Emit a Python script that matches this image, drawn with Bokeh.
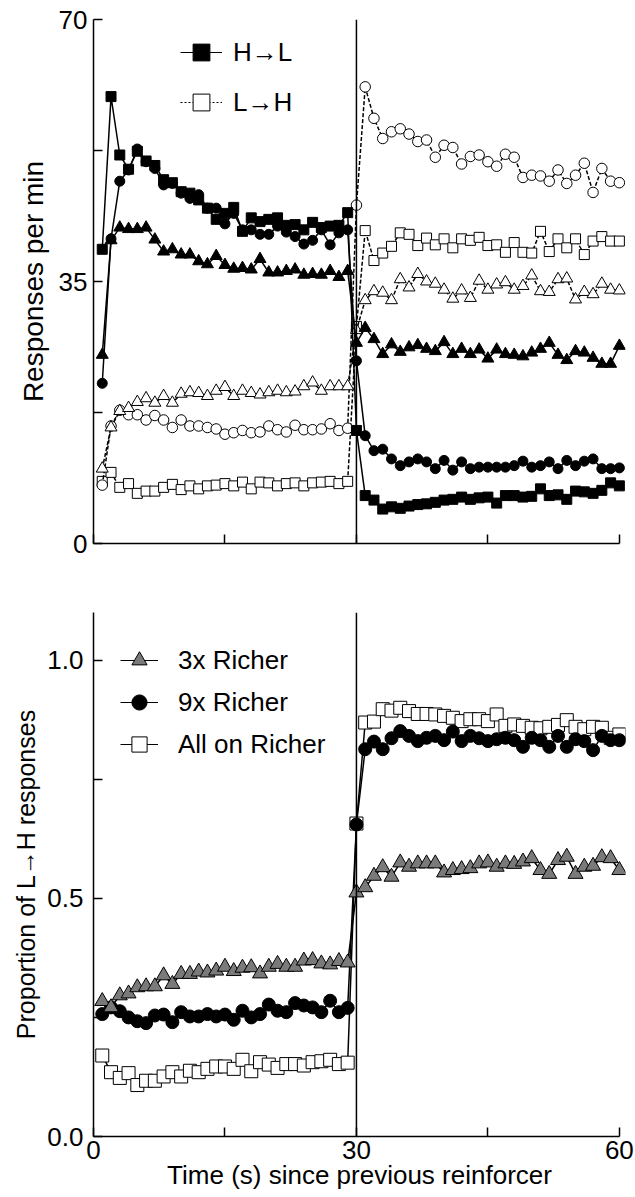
from bokeh.plotting import figure
from bokeh.models import Range1d, FixedTicker, Span, Legend, LegendItem
from bokeh.layouts import column
from bokeh.embed import file_html
from bokeh.resources import INLINE

# ---------------- data ----------------
time_s = [1, 2, 3, 4, 5, 6, 7, 8, 9, 10, 11, 12, 13, 14, 15, 16, 17, 18, 19, 20,
          21, 22, 23, 24, 25, 26, 27, 28, 29, 30, 31, 32, 33, 34, 35, 36, 37, 38, 39, 40,
          41, 42, 43, 44, 45, 46, 47, 48, 49, 50, 51, 52, 53, 54, 55, 56, 57, 58, 59, 60]

# Top panel: responses per min (H->L filled, L->H open)
hl_square = [39.3, 59.7, 51.9, 50.0, 52.4, 51.1, 50.5, 48.6, 48.2, 47.0, 46.8, 45.9, 44.8, 43.3, 44.1,
             44.9, 41.7, 43.5, 43.0, 43.3, 43.5, 42.5, 42.6, 41.9, 42.9, 42.2, 42.4, 42.5, 44.2, 15.1,
             6.4, 5.8, 4.6, 4.9, 4.7, 5.0, 5.2, 5.3, 5.5, 5.8, 5.9, 6.2, 5.9, 6.1, 6.2,
             5.4, 6.4, 6.4, 6.2, 6.3, 7.3, 6.4, 6.5, 5.9, 7.0, 6.9, 6.7, 7.1, 8.1, 7.7]
hl_circle = [21.4, 40.7, 48.4, 49.9, 52.7, 51.0, 50.1, 47.9, 48.1, 46.8, 46.1, 46.6, 44.8, 44.8, 42.7,
             44.1, 41.9, 41.9, 41.3, 41.3, 42.4, 41.6, 41.0, 40.0, 40.5, 41.9, 39.9, 41.5, 41.9, 24.4,
             14.4, 12.4, 12.6, 11.3, 10.4, 10.9, 11.3, 10.9, 10.0, 11.1, 9.8, 10.9, 10.0, 10.2, 10.2,
             10.2, 10.2, 10.4, 11.0, 10.2, 10.4, 10.9, 10.0, 11.1, 10.4, 11.0, 11.3, 10.0, 10.0, 10.1]
hl_triangle = [25.2, 40.5, 42.2, 42.0, 42.0, 42.2, 40.6, 39.0, 39.3, 38.6, 38.6, 37.7, 37.3, 38.4, 37.2,
               36.7, 36.8, 36.6, 38.0, 36.2, 36.2, 36.4, 36.6, 35.9, 36.0, 35.9, 36.4, 35.6, 36.4, 26.8,
               28.8, 27.3, 25.3, 26.6, 25.6, 26.2, 26.5, 26.0, 25.7, 26.9, 25.3, 26.0, 25.3, 25.9, 24.7,
               25.9, 25.3, 25.2, 25.0, 25.5, 26.0, 26.8, 25.2, 24.5, 25.7, 25.5, 24.8, 24.0, 24.0, 26.4]
lh_square = [8.3, 9.5, 7.5, 8.0, 6.7, 7.0, 7.0, 7.5, 7.9, 7.2, 7.7, 7.3, 7.7, 7.8, 8.0,
             7.7, 8.2, 7.3, 8.2, 8.1, 7.7, 8.0, 8.1, 7.7, 8.1, 8.2, 8.3, 8.0, 8.3, 29.0,
             41.8, 37.8, 38.8, 39.7, 41.5, 41.3, 39.8, 40.8, 39.9, 40.7, 39.5, 40.7, 40.5, 40.9, 39.8,
             39.9, 38.9, 40.2, 38.9, 38.8, 41.7, 39.0, 40.7, 39.5, 40.7, 38.6, 40.4, 41.0, 40.4, 40.4]
lh_circle = [7.8, 15.7, 17.8, 17.2, 17.2, 16.5, 17.1, 16.5, 15.5, 16.5, 15.7, 15.7, 15.5, 15.3, 14.6,
             14.8, 15.1, 14.8, 14.9, 15.7, 15.2, 14.9, 15.8, 15.2, 15.2, 15.3, 16.0, 15.1, 15.4, 45.2,
             61.0, 56.8, 54.1, 55.0, 55.4, 54.7, 53.7, 53.9, 51.6, 53.2, 52.9, 50.7, 51.7, 51.9, 51.0,
             50.4, 52.0, 51.6, 48.9, 49.2, 49.1, 48.4, 49.9, 48.1, 49.2, 50.8, 46.9, 50.1, 48.4, 48.2]
lh_triangle = [10.0, 15.5, 17.7, 18.1, 18.9, 19.4, 18.8, 19.7, 18.8, 20.0, 20.2, 20.1, 19.7, 20.4, 20.9,
               19.7, 20.4, 20.1, 19.9, 20.2, 20.4, 20.2, 20.3, 21.0, 21.5, 20.4, 21.0, 21.0, 21.0, 28.5,
               32.5, 33.7, 33.5, 32.5, 35.3, 34.2, 36.0, 35.0, 34.7, 33.9, 32.7, 33.8, 32.8, 35.1, 33.9,
               34.6, 34.9, 33.9, 34.4, 35.8, 33.7, 33.6, 35.3, 35.4, 32.6, 33.6, 33.3, 34.7, 33.9, 33.8]

# Bottom panel: proportion of L->H responses
richer_3x = [0.284, 0.271, 0.296, 0.300, 0.313, 0.315, 0.315, 0.338, 0.320, 0.341, 0.341, 0.346, 0.344, 0.348, 0.356,
             0.347, 0.354, 0.355, 0.342, 0.356, 0.362, 0.356, 0.356, 0.369, 0.370, 0.363, 0.361, 0.368, 0.365, 0.512,
             0.523, 0.547, 0.565, 0.545, 0.575, 0.566, 0.573, 0.573, 0.573, 0.554, 0.559, 0.561, 0.563, 0.573, 0.575,
             0.566, 0.573, 0.572, 0.577, 0.584, 0.559, 0.551, 0.580, 0.587, 0.551, 0.566, 0.568, 0.586, 0.584, 0.559]
richer_9x = [0.257, 0.271, 0.263, 0.250, 0.242, 0.238, 0.254, 0.256, 0.240, 0.261, 0.252, 0.252, 0.257, 0.252, 0.256,
             0.245, 0.264, 0.250, 0.257, 0.277, 0.264, 0.261, 0.280, 0.275, 0.271, 0.261, 0.285, 0.261, 0.270, 0.655,
             0.813, 0.829, 0.813, 0.836, 0.851, 0.841, 0.830, 0.837, 0.841, 0.832, 0.850, 0.830, 0.841, 0.836, 0.830,
             0.834, 0.837, 0.832, 0.818, 0.837, 0.832, 0.818, 0.841, 0.818, 0.834, 0.830, 0.811, 0.841, 0.832, 0.832]
all_richer = [0.170, 0.135, 0.123, 0.133, 0.108, 0.117, 0.117, 0.126, 0.135, 0.126, 0.138, 0.135, 0.142, 0.147, 0.147,
              0.142, 0.161, 0.137, 0.156, 0.151, 0.144, 0.152, 0.152, 0.149, 0.156, 0.158, 0.161, 0.152, 0.155, 0.657,
              0.869, 0.871, 0.897, 0.894, 0.900, 0.893, 0.887, 0.887, 0.886, 0.883, 0.879, 0.872, 0.876, 0.876, 0.872,
              0.886, 0.862, 0.865, 0.862, 0.858, 0.857, 0.860, 0.864, 0.874, 0.860, 0.855, 0.860, 0.858, 0.837, 0.844]

x_ticks = [0, 15, 30, 45, 60]
top_y_ticks = [0, 17.5, 35, 52.5, 70]
bottom_y_ticks = [0, 0.25, 0.5, 0.75, 1.0]
switch_time = 30

FONT = "Liberation Sans"
GREY = "#7a7a7a"
NAN = float("nan")   # legend-only proxies are never drawn in the plot area


def style(p, yticks, ylabel_overrides, xlabel_overrides, ylabel, xlabel,
          y_standoff, y_title_standoff, y_title_size):
    p.xgrid.visible = False
    p.ygrid.visible = False
    p.outline_line_color = None
    p.background_fill_color = "white"
    p.border_fill_color = "white"
    for ax in (p.xaxis[0], p.yaxis[0]):
        ax.axis_line_width = 1.5
        ax.axis_line_color = "black"
        ax.major_tick_in = 9
        ax.major_tick_out = 0
        ax.major_tick_line_width = 1.5
        ax.minor_tick_line_color = None
        ax.major_label_text_font = FONT
        ax.major_label_text_font_size = "26px"
        ax.major_label_text_color = "black"
        ax.axis_label_text_font = FONT
        ax.axis_label_text_font_style = "normal"
        ax.axis_label_text_font_size = "26px"
        ax.axis_label_text_color = "black"
    p.xaxis[0].ticker = FixedTicker(ticks=x_ticks)
    p.xaxis[0].bounds = (0, 60)
    p.xaxis[0].major_label_overrides = xlabel_overrides
    p.yaxis[0].ticker = FixedTicker(ticks=yticks)
    p.yaxis[0].major_label_overrides = ylabel_overrides
    p.yaxis[0].major_label_standoff = y_standoff
    p.yaxis[0].axis_label = ylabel
    p.yaxis[0].axis_label_standoff = y_title_standoff
    p.yaxis[0].axis_label_text_font_size = y_title_size
    if xlabel:
        p.xaxis[0].axis_label = xlabel
    p.add_layout(Span(location=switch_time, dimension="height", line_color="black", line_width=1.5))


# ---------------- top panel ----------------
p1 = figure(width=635, height=573, output_backend="svg", toolbar_location=None,
            x_range=Range1d(0, 60.7), y_range=Range1d(0, 70),
            min_border_left=93, min_border_right=10, min_border_top=19, min_border_bottom=30)
style(p1, top_y_ticks, {0: "0", 17.5: "", 35: "35", 52.5: "", 70: "70"},
      {0: "", 15: "", 30: "", 45: "", 60: ""}, "Responses per min", None, 6, 7, "28px")
p1.xaxis[0].major_label_text_font_size = "1px"

dash = "4 2"
p1.line(time_s, lh_square, line_color="black", line_width=1.5, line_dash=dash)
p1.scatter(time_s, lh_square, marker="square", size=10, fill_color="white", line_color="black", line_width=1)
p1.line(time_s, lh_circle, line_color="black", line_width=1.5, line_dash=dash)
p1.scatter(time_s, lh_circle, marker="circle", size=10.5, fill_color="white", line_color="black", line_width=1)
p1.line(time_s, lh_triangle, line_color="black", line_width=1.5, line_dash=dash)
p1.scatter(time_s, lh_triangle, marker="triangle", size=12, fill_color="white", line_color="black", line_width=1)

p1.line(time_s, hl_square, line_color="black", line_width=1.5)
p1.scatter(time_s, hl_square, marker="square", size=10, fill_color="black", line_color="black")
p1.line(time_s, hl_circle, line_color="black", line_width=1.5)
p1.scatter(time_s, hl_circle, marker="circle", size=10, fill_color="black", line_color="black")
p1.line(time_s, hl_triangle, line_color="black", line_width=1.5)
p1.scatter(time_s, hl_triangle, marker="triangle", size=12, fill_color="black", line_color="black")

lg1 = p1.line(x=[NAN], y=[NAN], line_color="black", line_width=1)
mk1 = p1.scatter(x=[NAN], y=[NAN], marker="square", fill_color="black", line_color="black")
lg2 = p1.line(x=[NAN], y=[NAN], line_color="black", line_width=1, line_dash="2 2")
mk2 = p1.scatter(x=[NAN], y=[NAN], marker="square", fill_color="white", line_color="black", line_width=1)
leg_top = Legend(items=[LegendItem(label="H\u2192L", renderers=[lg1, mk1]),
                        LegendItem(label="L\u2192H", renderers=[lg2, mk2])],
                 location=(87, 416), glyph_width=42, glyph_height=50, spacing=-20,
                 label_standoff=11, padding=0, margin=0, border_line_color=None,
                 background_fill_alpha=0, label_text_font=FONT, label_text_font_size="26px",
                 label_text_color="black")
p1.add_layout(leg_top)

# ---------------- bottom panel ----------------
p2 = figure(width=635, height=624, output_backend="svg", toolbar_location=None,
            x_range=Range1d(0, 60.7), y_range=Range1d(0, 1.1),
            min_border_left=93, min_border_right=10, min_border_top=39, min_border_bottom=61)
style(p2, bottom_y_ticks, {0: "0.0", 0.25: "", 0.5: "0.5", 0.75: "", 1.0: "1.0"},
      {0: "0", 15: "", 30: "30", 45: "", 60: "60"},
      "Proportion of L\u2192H responses", "Time (s) since previous reinforcer", 10, 4, "25px")
p2.xaxis[0].major_label_standoff = 4
p2.xaxis[0].axis_label_standoff = -2

p2.line(time_s, all_richer, line_color="black", line_width=1.5)
p2.scatter(time_s, all_richer, marker="square", size=13, fill_color="white", line_color="black", line_width=1)
p2.line(time_s, richer_9x, line_color="black", line_width=1.5)
p2.scatter(time_s, richer_9x, marker="circle", size=13, fill_color="black", line_color="black")
p2.line(time_s, richer_3x, line_color="black", line_width=1.5)
p2.scatter(time_s, richer_3x, marker="triangle", size=15, fill_color=GREY, line_color="black", line_width=1)

b_line = p2.line(x=[NAN], y=[NAN], line_color="black", line_width=1)
b_tri = p2.scatter(x=[NAN], y=[NAN], marker="triangle", fill_color=GREY, line_color="black", line_width=1)
b_cir = p2.scatter(x=[NAN], y=[NAN], marker="circle", fill_color="black", line_color="black")
b_sq = p2.scatter(x=[NAN], y=[NAN], marker="square", fill_color="white", line_color="black", line_width=1)
leg_bot = Legend(items=[LegendItem(label="3x Richer", renderers=[b_line, b_tri]),
                        LegendItem(label="9x Richer", renderers=[b_line, b_cir]),
                        LegendItem(label="All on Richer", renderers=[b_line, b_sq])],
                 location=(27, 371), glyph_width=38, glyph_height=42, spacing=-11,
                 label_standoff=20, padding=0, margin=0, border_line_color=None,
                 background_fill_alpha=0, label_text_font=FONT, label_text_font_size="26px",
                 label_text_color="black")
p2.add_layout(leg_bot)

layout = column(p1, p2, spacing=0)
open("out.html", "w").write(file_html(layout, INLINE))
